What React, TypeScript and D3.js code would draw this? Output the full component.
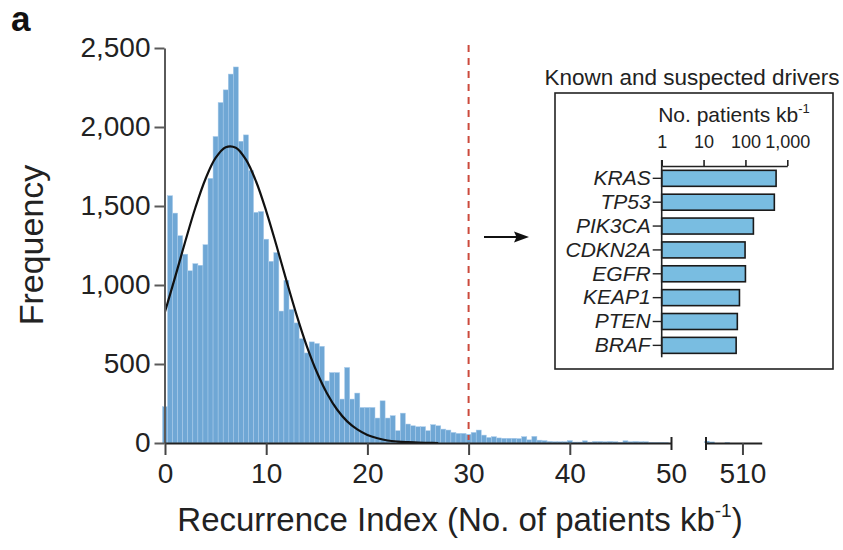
import React, { useEffect, useRef } from 'react';
import * as d3 from 'd3';

// histogram of recurrence index, bins of 0.5 centred on 0, 0.5, 1 ... 49.5
const binWidth = 0.5;
const frequency = [
  230, 1565, 1455, 1312, 1195, 1090, 1135, 1125, 1255, 1675,
  1940, 2155, 2235, 2335, 2380, 1910, 1950, 1725, 1460, 1465,
  1290, 1150, 1205, 835, 1030, 845, 760, 660, 570, 640,
  630, 612, 393, 446, 446, 278, 478, 278, 316, 225,
  225, 225, 158, 267, 158, 173, 78, 189, 120, 109,
  103, 103, 78, 116, 109, 88, 82, 67, 61, 61,
  55, 67, 82, 50, 35, 40, 32, 30, 30, 30,
  28, 40, 20, 42, 18, 15, 10, 8, 8, 8,
  15, 6, 6, 14, 6, 10, 10, 8, 10, 8,
  5, 14, 8, 10, 8, 8, 4, 3, 3, 2,
];
// the few genes far out on the right, after the axis break
const tailCentres = [506.5, 507, 508.5];
const tailFrequency = [12, 8, 4];

// fitted curve
const fitX = [0, 1, 2, 3, 4, 5, 6, 7, 8, 9, 10, 11, 12, 13, 14, 15, 16, 17, 18, 19, 20, 21, 22, 23, 24, 25, 26, 27];
const fitY = [831, 1050, 1275, 1489, 1671, 1804, 1872, 1869, 1793, 1655, 1468, 1253, 1028, 811, 615, 449, 315, 212, 137, 86, 51, 30, 16, 9, 5, 2, 1, 0];

const xTicks = [0, 10, 20, 30, 40, 50];
const xTicksBreak = [510];
const yTicks = [0, 500, 1000, 1500, 2000, 2500];
const cutoff = 30;

// inset
const genes = ['KRAS', 'TP53', 'PIK3CA', 'CDKN2A', 'EGFR', 'KEAP1', 'PTEN', 'BRAF'];
const patientsPerKb = [540, 490, 155, 98, 100, 72, 64, 60];
const insetTicks = [1, 10, 100, 1000];

const font = '"Liberation Sans", Arial, Helvetica, sans-serif';
const ink = '#222';

export default function App() {
  const ref = useRef<SVGSVGElement>(null);

  useEffect(() => {
    const svg = d3.select(ref.current);
    svg.selectAll('*').remove();

    const x = d3.scaleLinear().domain([0, 50]).range([165, 671]);
    const xb = d3.scaleLinear().domain([506.4, 511.9]).range([706, 761.7]);
    const y = d3.scaleLinear().domain([0, 2500]).range([443, 48]);

    // bars
    const barFill = '#6fa7d5';
    const barEdge = '#a9cceb';
    svg.append('g')
      .selectAll('rect')
      .data(frequency)
      .join('rect')
      .attr('x', (d, i) => x(i * binWidth - binWidth / 2))
      .attr('width', x(binWidth) - x(0))
      .attr('y', d => y(d))
      .attr('height', d => y(0) - y(d))
      .attr('fill', barFill)
      .attr('stroke', barEdge)
      .attr('stroke-width', 0.5);

    svg.append('g')
      .selectAll('rect')
      .data(tailFrequency)
      .join('rect')
      .attr('x', (d, i) => xb(tailCentres[i] - binWidth / 2))
      .attr('width', xb(binWidth) - xb(0))
      .attr('y', d => y(d))
      .attr('height', d => y(0) - y(d))
      .attr('fill', barFill);

    // fitted curve
    const line = d3.line<number>()
      .x((d, i) => x(fitX[i]))
      .y(d => y(d))
      .curve(d3.curveCatmullRom);
    svg.append('path')
      .datum(fitY)
      .attr('d', line)
      .attr('fill', 'none')
      .attr('stroke', '#111')
      .attr('stroke-width', 2.2);

    // cutoff
    svg.append('line')
      .attr('x1', x(cutoff)).attr('x2', x(cutoff))
      .attr('y1', 45).attr('y2', y(0) - 3)
      .attr('stroke', '#cc4a3c')
      .attr('stroke-width', 2)
      .attr('stroke-dasharray', '7,6');

    // y axis
    const yAxis = svg.append('g')
      .attr('transform', 'translate(164.5,0)')
      .call(d3.axisLeft(y).tickValues(yTicks).tickFormat(d3.format(',')).tickSize(10).tickPadding(4).tickSizeOuter(0));
    yAxis.select('.domain').attr('stroke', '#5a5a5a').attr('stroke-width', 2);
    yAxis.selectAll('.tick line').attr('stroke', '#5a5a5a').attr('stroke-width', 2);
    yAxis.selectAll('text').attr('font-size', 28).attr('font-family', font).attr('fill', ink);

    // x axis, two pieces
    const styleX = (g: any) => {
      g.select('.domain').attr('stroke', '#222').attr('stroke-width', 2);
      g.selectAll('.tick line').attr('stroke', '#444').attr('stroke-width', 2);
      g.selectAll('text').attr('font-size', 28).attr('font-family', font).attr('fill', ink);
    };
    const xAxis = svg.append('g')
      .attr('transform', 'translate(0,443)')
      .call(d3.axisBottom(x).tickValues(xTicks).tickSize(12).tickPadding(8).tickSizeOuter(0));
    styleX(xAxis);
    xAxis.selectAll('.tick').filter((d: any) => d === 50).select('line').attr('y1', -6).attr('y2', 7).attr('stroke', '#222');

    const xAxis2 = svg.append('g')
      .attr('transform', 'translate(0,443)')
      .call(d3.axisBottom(xb).tickValues(xTicksBreak).tickFormat(d3.format('d')).tickSize(12).tickPadding(8).tickSizeOuter(0));
    styleX(xAxis2);
    xAxis2.append('line')
      .attr('x1', xb(506.4)).attr('x2', xb(506.4))
      .attr('y1', -6).attr('y2', 7)
      .attr('stroke', '#222').attr('stroke-width', 2);

    // axis titles
    const xt = svg.append('text')
      .attr('x', 460).attr('y', 531)
      .attr('text-anchor', 'middle')
      .attr('font-family', font).attr('font-size', 33).attr('fill', ink);
    xt.append('tspan').text('Recurrence Index (No. of patients kb');
    xt.append('tspan').attr('font-size', 19).attr('dy', -14).text('-1');
    xt.append('tspan').attr('dy', 14).text(')');

    svg.append('text')
      .attr('transform', 'translate(43,245) rotate(-90)')
      .attr('text-anchor', 'middle')
      .attr('font-family', font).attr('font-size', 34).attr('fill', ink)
      .text('Frequency');

    svg.append('text')
      .attr('x', 11).attr('y', 31)
      .attr('font-family', font).attr('font-size', 35).attr('font-weight', 'bold').attr('fill', '#111')
      .text('a');

    // arrow
    svg.append('line')
      .attr('x1', 484).attr('x2', 518).attr('y1', 237).attr('y2', 237)
      .attr('stroke', '#111').attr('stroke-width', 2);
    svg.append('path')
      .attr('d', 'M529,237 L514,231.5 L516.5,237 L514,242.5 Z')
      .attr('fill', '#111');

    // inset
    const inset = svg.append('g');
    inset.append('rect')
      .attr('x', 555).attr('y', 93).attr('width', 278).attr('height', 276)
      .attr('fill', 'none').attr('stroke', '#222').attr('stroke-width', 1.6);
    inset.append('text')
      .attr('x', 692).attr('y', 85).attr('text-anchor', 'middle')
      .attr('font-family', font).attr('font-size', 22.5).attr('fill', ink)
      .text('Known and suspected drivers');

    const xl = d3.scaleLog().domain([1, 1000]).range([661.7, 787.3]);
    const band = d3.scaleBand<string>().domain(genes).range([166.4, 357.3]).paddingInner(0.33).paddingOuter(0.165);

    const at = inset.append('text')
      .attr('x', 734).attr('y', 122).attr('text-anchor', 'middle')
      .attr('font-family', font).attr('font-size', 21).attr('fill', ink);
    at.append('tspan').text('No. patients kb');
    at.append('tspan').attr('font-size', 13).attr('dy', -9).text('-1');

    const ax = inset.append('g')
      .attr('transform', 'translate(0,166)')
      .call(d3.axisTop(xl).tickValues(insetTicks).tickFormat(d3.format(',')).tickSize(6).tickPadding(12).tickSizeOuter(0));
    ax.select('.domain').attr('stroke', '#222').attr('stroke-width', 1.6);
    ax.selectAll('.tick line').attr('stroke', '#222').attr('stroke-width', 1.6);
    ax.selectAll('text').attr('font-size', 18).attr('font-family', font).attr('fill', ink);

    inset.append('g')
      .selectAll('rect')
      .data(patientsPerKb)
      .join('rect')
      .attr('x', xl(1))
      .attr('y', (d, i) => band(genes[i]) as number)
      .attr('width', d => xl(d) - xl(1))
      .attr('height', band.bandwidth())
      .attr('fill', '#79bde1')
      .attr('stroke', '#1a1a1a')
      .attr('stroke-width', 1.6);

    const ay = inset.append('g')
      .attr('transform', `translate(${xl(1)},0)`)
      .call(d3.axisLeft(band).tickSize(9).tickPadding(2).tickSizeOuter(0));
    ay.select('.domain').attr('d', `M0,160V${357.3}`).attr('stroke', '#222').attr('stroke-width', 1.6);
    ay.selectAll('.tick line').attr('stroke', '#222').attr('stroke-width', 1.4);
    ay.selectAll('text').attr('font-size', 21).attr('font-style', 'italic').attr('font-family', font).attr('fill', ink);
  }, []);

  return (
    <svg
      ref={ref}
      width={843}
      height={550}
      style={{ position: 'absolute', left: 0, top: 0, background: '#fff' }}
    />
  );
}
